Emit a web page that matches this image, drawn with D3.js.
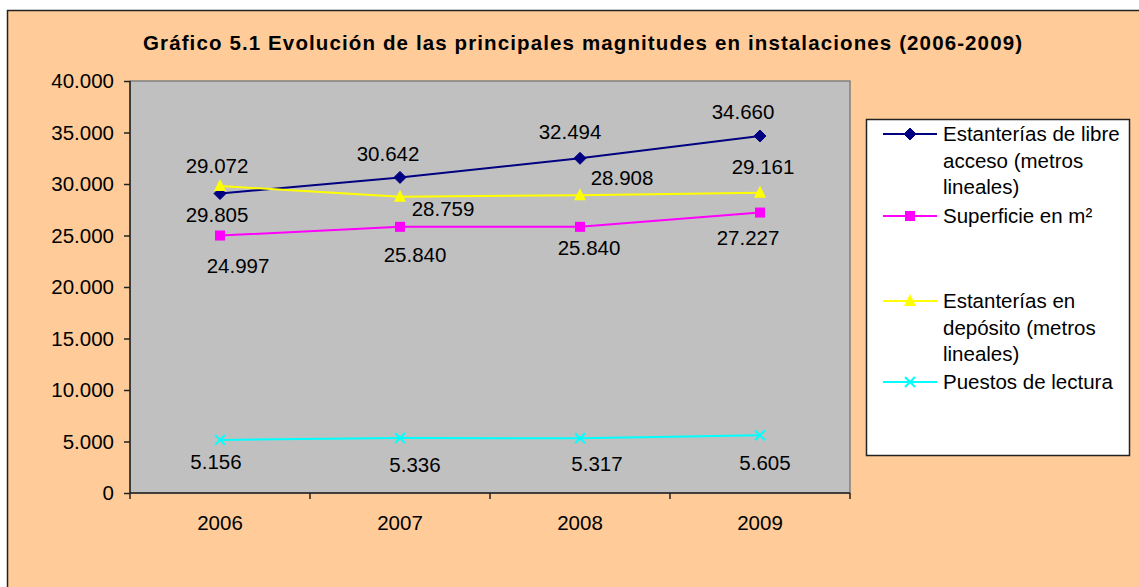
<!DOCTYPE html>
<html>
<head>
<meta charset="utf-8">
<script src="https://cdn.jsdelivr.net/npm/d3@7"></script>
<style>
  body { margin: 0; background: #fff; }
  svg { display: block; font-family: "Liberation Sans", Arial, sans-serif; }
</style>
</head>
<body>
<div id="chart"></div>
<script>
// data
var years = ["2006", "2007", "2008", "2009"];
var libreAcceso = [29072, 30642, 32494, 34660];
var superficie = [24997, 25840, 25840, 27227];
var deposito = [29805, 28759, 28908, 29161];
var puestos = [5156, 5336, 5317, 5605];
var yTicks = [0, 5000, 10000, 15000, 20000, 25000, 30000, 35000, 40000];
var seriesNames = [
  ["Estanterías de libre", "acceso (metros", "lineales)"],
  ["Superficie en m²"],
  ["Estanterías en", "depósito (metros", "lineales)"],
  ["Puestos de lectura"]
];

const width = 1139;
const height = 587;
var fontSize = "20.5px";

// plot area
var plotL = 130, plotR = 850, plotT = 81, plotB = 493;

var x = d3.scaleBand().domain(years).range([plotL, plotR]).padding(0);
var y = d3.scaleLinear().domain([0, 40000]).range([plotB, plotT]);

var es = d3.formatLocale({decimal: ",", thousands: ".", grouping: [3], currency: ["", ""]});
var fmt = es.format(",d");

// label placement per series (dx, dy from the point) - hand tuned to the picture
var series = [
  {values: libreAcceso, color: "#000080", marker: "diamond",
   offs: [[-3, -28], [-12, -24], [-10, -26], [-17, -24]]},
  {values: superficie, color: "#FF00FF", marker: "square",
   offs: [[18, 30], [15, 28], [9, 21], [-12, 25]]},
  {values: deposito, color: "#FFFF00", marker: "triangle",
   offs: [[-3, 29], [43, 12], [42, -17], [3, -26]]},
  {values: puestos, color: "#00FFFF", marker: "x",
   offs: [[-4, 22], [15, 27], [17, 26], [5, 28]]}
];

var svg = d3.select("#chart").append("svg")
  .attr("width", width)
  .attr("height", height);

// chart area background
svg.append("rect")
  .attr("x", 7.5).attr("y", 10.5)
  .attr("width", 1160).attr("height", 620)
  .attr("fill", "#FFCC99")
  .attr("stroke", "#222").attr("stroke-width", 1.5);

// title
svg.append("text")
  .attr("x", 582.5).attr("y", 49.5)
  .attr("text-anchor", "middle")
  .attr("textLength", 879)
  .attr("lengthAdjust", "spacing")
  .style("font-size", "20.5px")
  .style("font-weight", "bold")
  .text("Gráfico 5.1 Evolución de las principales magnitudes en instalaciones (2006-2009)");

// plot background
svg.append("rect")
  .attr("x", plotL).attr("y", plotT)
  .attr("width", plotR - plotL).attr("height", plotB - plotT)
  .attr("fill", "#C0C0C0")
  .attr("stroke", "#808080").attr("stroke-width", 1.5);

// y axis
var yAxis = svg.append("g")
  .attr("transform", "translate(" + plotL + ",0)")
  .call(d3.axisLeft(y).tickValues(yTicks).tickFormat(fmt).tickSize(6).tickPadding(10));
yAxis.selectAll("text").style("font-size", fontSize).attr("fill", "#000");
yAxis.selectAll("line, path").attr("stroke", "#222").attr("stroke-width", 1.5);
yAxis.select(".domain").attr("d", "M0," + plotT + "V" + plotB);

// x axis (ticks between categories)
var xAxis = svg.append("g")
  .attr("transform", "translate(0," + plotB + ")");
xAxis.append("line")
  .attr("x1", plotL).attr("x2", plotR)
  .attr("stroke", "#222").attr("stroke-width", 1.5);
xAxis.selectAll(".tk")
  .data(years.concat(["end"]))
  .enter().append("line")
  .attr("x1", function(d, i) { return plotL + i * x.bandwidth(); })
  .attr("x2", function(d, i) { return plotL + i * x.bandwidth(); })
  .attr("y1", 0).attr("y2", 6)
  .attr("stroke", "#222").attr("stroke-width", 1.5);
xAxis.selectAll(".yr")
  .data(years)
  .enter().append("text")
  .attr("x", function(d) { return x(d) + x.bandwidth() / 2; })
  .attr("y", 37)
  .attr("text-anchor", "middle")
  .style("font-size", fontSize)
  .text(function(d) { return d; });

function cx(i) { return x(years[i]) + x.bandwidth() / 2; }

function drawMarker(g, type, color, px, py) {
  if (type === "diamond") {
    g.append("path")
      .attr("d", "M" + px + "," + (py - 6) + "L" + (px + 6) + "," + py + "L" + px + "," + (py + 6) + "L" + (px - 6) + "," + py + "Z")
      .attr("fill", color).attr("stroke", color);
  } else if (type === "square") {
    g.append("rect")
      .attr("x", px - 5).attr("y", py - 5)
      .attr("width", 10).attr("height", 10)
      .attr("fill", color);
  } else if (type === "triangle") {
    g.append("path")
      .attr("d", "M" + px + "," + (py - 7) + "L" + (px + 6) + "," + (py + 5) + "L" + (px - 6) + "," + (py + 5) + "Z")
      .attr("fill", color);
  } else {
    g.append("path")
      .attr("d", "M" + (px - 5) + "," + (py - 5) + "L" + (px + 5) + "," + (py + 5) + "M" + (px + 5) + "," + (py - 5) + "L" + (px - 5) + "," + (py + 5))
      .attr("stroke", color).attr("stroke-width", 2).attr("fill", "none");
  }
}

var line = d3.line()
  .x(function(d, i) { return cx(i); })
  .y(function(d) { return y(d); });

// lines + markers
series.forEach(function(s) {
  var g = svg.append("g");
  g.append("path")
    .attr("d", line(s.values))
    .attr("fill", "none")
    .attr("stroke", s.color)
    .attr("stroke-width", 2);
  s.values.forEach(function(v, i) {
    drawMarker(g, s.marker, s.color, cx(i), y(v));
  });
});

// data labels
series.forEach(function(s) {
  svg.append("g").selectAll("text")
    .data(s.values)
    .enter().append("text")
    .attr("x", function(d, i) { return cx(i) + s.offs[i][0]; })
    .attr("y", function(d, i) { return y(d) + s.offs[i][1]; })
    .attr("dy", "0.35em")
    .attr("text-anchor", "middle")
    .style("font-size", fontSize)
    .text(function(d) { return fmt(d); });
});

// legend
var legend = svg.append("g");
legend.append("rect")
  .attr("x", 866.5).attr("y", 119.5)
  .attr("width", 263).attr("height", 336)
  .attr("fill", "#fff")
  .attr("stroke", "#222").attr("stroke-width", 1.5);

var legendY = [134, 216, 301, 382];
var lineH = 26.5;
series.forEach(function(s, k) {
  var ly = legendY[k];
  legend.append("line")
    .attr("x1", 883).attr("x2", 937)
    .attr("y1", ly).attr("y2", ly)
    .attr("stroke", s.color).attr("stroke-width", 2);
  drawMarker(legend, s.marker, s.color, 910, ly);
  seriesNames[k].forEach(function(t, j) {
    legend.append("text")
      .attr("x", 943)
      .attr("y", ly + j * lineH)
      .attr("dy", "0.35em")
      .style("font-size", fontSize)
      .text(t);
  });
});
</script>
</body>
</html>
